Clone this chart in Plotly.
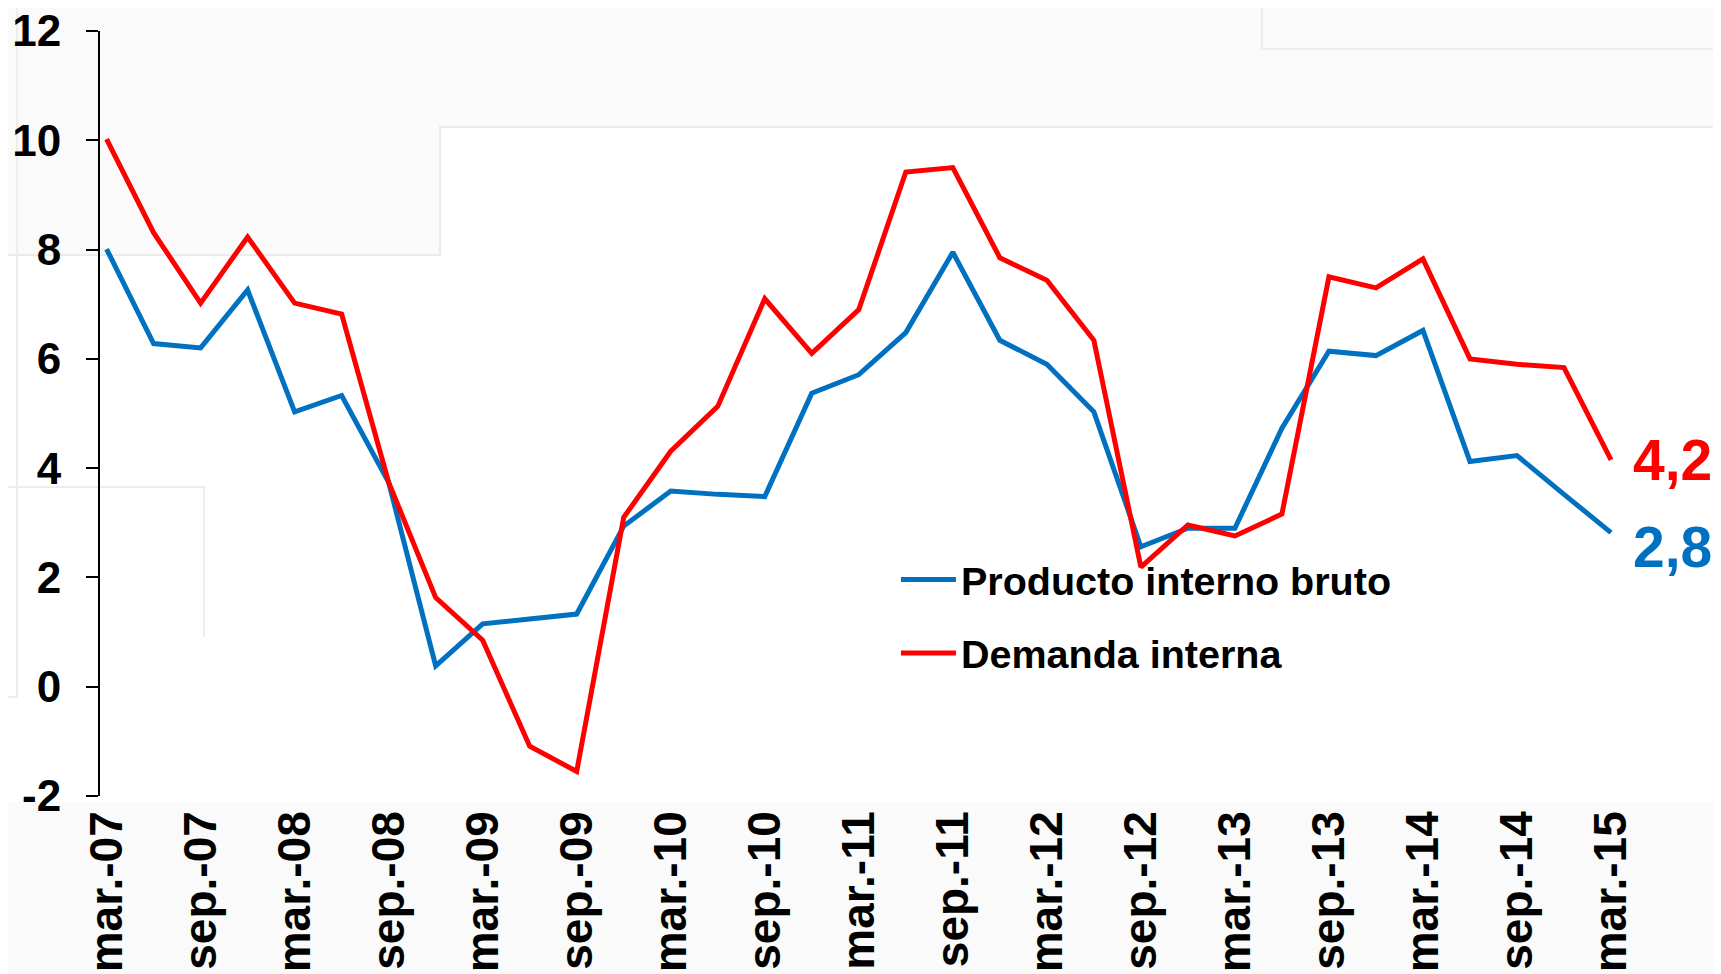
import plotly.graph_objects as go

# Variación anual (%) trimestral, mar-07 a mar-15
trimestres = ["mar.-07", "jun.-07", "sep.-07", "dic.-07",
              "mar.-08", "jun.-08", "sep.-08", "dic.-08",
              "mar.-09", "jun.-09", "sep.-09", "dic.-09",
              "mar.-10", "jun.-10", "sep.-10", "dic.-10",
              "mar.-11", "jun.-11", "sep.-11", "dic.-11",
              "mar.-12", "jun.-12", "sep.-12", "dic.-12",
              "mar.-13", "jun.-13", "sep.-13", "dic.-13",
              "mar.-14", "jun.-14", "sep.-14", "dic.-14",
              "mar.-15"]

pib = [8.01, 6.28, 6.20, 7.26, 5.03, 5.33, 3.74, 0.38, 1.15, 1.23,
       1.33, 2.94, 3.58, 3.52, 3.48, 5.37, 5.71, 6.48, 7.95, 6.34,
       5.90, 5.03, 2.56, 2.90, 2.90, 4.73, 6.14, 6.06, 6.52, 4.12,
       4.23, 3.52, 2.82]

demanda = [10.02, 8.31, 7.02, 8.23, 7.02, 6.82, 3.74, 1.63, 0.85, -1.09,
           -1.55, 3.10, 4.31, 5.13, 7.10, 6.10, 6.90, 9.42, 9.50, 7.85,
           7.44, 6.34, 2.19, 2.96, 2.76, 3.16, 7.50, 7.30, 7.83, 6.00,
           5.90, 5.84, 4.15]

etiquetas = ["mar.-07", "sep.-07", "mar.-08", "sep.-08", "mar.-09", "sep.-09",
             "mar.-10", "sep.-10", "mar.-11", "sep.-11", "mar.-12", "sep.-12",
             "mar.-13", "sep.-13", "mar.-14", "sep.-14", "mar.-15"]

valores_y = [-2, 0, 2, 4, 6, 8, 10, 12]
textos_y = ["-2", "0", "2", "4", "6", "8", "10", "12"]

AZUL = "#0070C0"
ROJO = "#FF0000"
FUENTE = "Liberation Sans, Arial, sans-serif"

x = list(range(len(trimestres)))
pos_etiquetas = [trimestres.index(e) for e in etiquetas]

# la página deja 8 px de margen al cuerpo: se descuentan aquí
OFF = 8
W, H = 1721 - OFF, 974 - OFF
ML, MR, MT, MB = 100 - OFF, 102, 31 - OFF, 178


def paper(px, py):
    # pixel de la imagen de referencia -> coordenadas paper
    px, py = px - OFF, py - OFF
    return (px - ML) / (W - ML - MR), (H - MB - py) / (H - MT - MB)


def trazo(puntos):
    pts = [paper(a, b) for a, b in puntos]
    return "M " + " L ".join(f"{a:.4f},{b:.4f}" for a, b in pts)


fig = go.Figure()

fig.add_trace(go.Scatter(x=x, y=pib, mode="lines", name="Producto interno bruto",
                         line=dict(color=AZUL, width=5), legendgroup="a"))
fig.add_trace(go.Scatter(x=x, y=demanda, mode="lines", name="Demanda interna",
                         line=dict(color=ROJO, width=5), legendgroup="b"))

# fondo tenue (marca de agua escalonada)
fondo = [
    dict(type="path", path=trazo([(0, 0), (1721, 0), (1721, 127), (440, 127), (440, 255), (0, 255)]) + " Z",
         fillcolor="#fafafa", line=dict(width=0)),
    dict(type="rect", x0=paper(0, 0)[0], x1=paper(1721, 0)[0], y0=paper(0, 974)[1], y1=paper(0, 802)[1],
         fillcolor="#fafafa", line=dict(width=0)),
    dict(type="path", path=trazo([(1721, 127), (440, 127), (440, 255), (0, 255)]),
         line=dict(color="#ebebeb", width=2)),
    dict(type="path", path=trazo([(1262, 0), (1262, 49), (1721, 49)]),
         line=dict(color="#ededed", width=2)),
    dict(type="path", path=trazo([(17, 0), (17, 697), (0, 697)]),
         line=dict(color="#ededed", width=2)),
    dict(type="path", path=trazo([(0, 487), (204, 487), (204, 637)]),
         line=dict(color="#ededed", width=2)),
]
for s in fondo:
    s.update(xref="paper", yref="paper", layer="below")

rango_x = [-0.14, 32.17]

fig.update_layout(
    width=W, height=H,
    margin=dict(l=ML, r=MR, t=MT, b=MB, autoexpand=False),
    paper_bgcolor="white",
    plot_bgcolor="rgba(0,0,0,0)",
    font=dict(family=FUENTE, color="black", weight="bold"),
    shapes=fondo,
    showlegend=True,
    legend=dict(x=0.524, y=0.325, xanchor="left", yanchor="top",
                bgcolor="rgba(0,0,0,0)", font=dict(size=39.5, family=FUENTE, weight="bold"),
                itemwidth=55, tracegroupgap=19),
    xaxis=dict(range=rango_x, tickvals=pos_etiquetas, ticktext=etiquetas,
               tickangle=-90, tickfont=dict(size=46, family=FUENTE, weight="bold"),
               showline=False, ticks="", showgrid=False, zeroline=False,
               ticklabelstandoff=5, automargin=False, ticklabeloverflow="allow"),
    xaxis2=dict(range=rango_x, overlaying="x", anchor="free", position=2 / 14,
                tickvals=[v - 0.14 for v in pos_etiquetas], showticklabels=False,
                ticks="outside", ticklen=12, tickwidth=2, tickcolor="black",
                showline=True, linecolor="black", linewidth=2,
                showgrid=False, zeroline=False, automargin=False),
    yaxis=dict(range=[-2, 12], tickvals=valores_y, ticktext=textos_y,
               showline=True, linecolor="black", linewidth=2,
               ticks="outside", ticklen=12, tickwidth=2, tickcolor="black",
               showgrid=False, zeroline=False,
               tickfont=dict(size=44, family=FUENTE, weight="bold"),
               ticklabelstandoff=16, automargin=False, ticklabeloverflow="allow"),
)

fig.add_annotation(x=x[-1], y=demanda[-1], text="4,2", showarrow=False,
                   xanchor="left", yanchor="middle", xshift=20, yshift=0,
                   font=dict(size=57, color=ROJO, family=FUENTE, weight="bold"))
fig.add_annotation(x=x[-1], y=pib[-1], text="2,8", showarrow=False,
                   xanchor="left", yanchor="middle", xshift=20, yshift=-14,
                   font=dict(size=57, color=AZUL, family=FUENTE, weight="bold"))

fig.write_html("out.html")
